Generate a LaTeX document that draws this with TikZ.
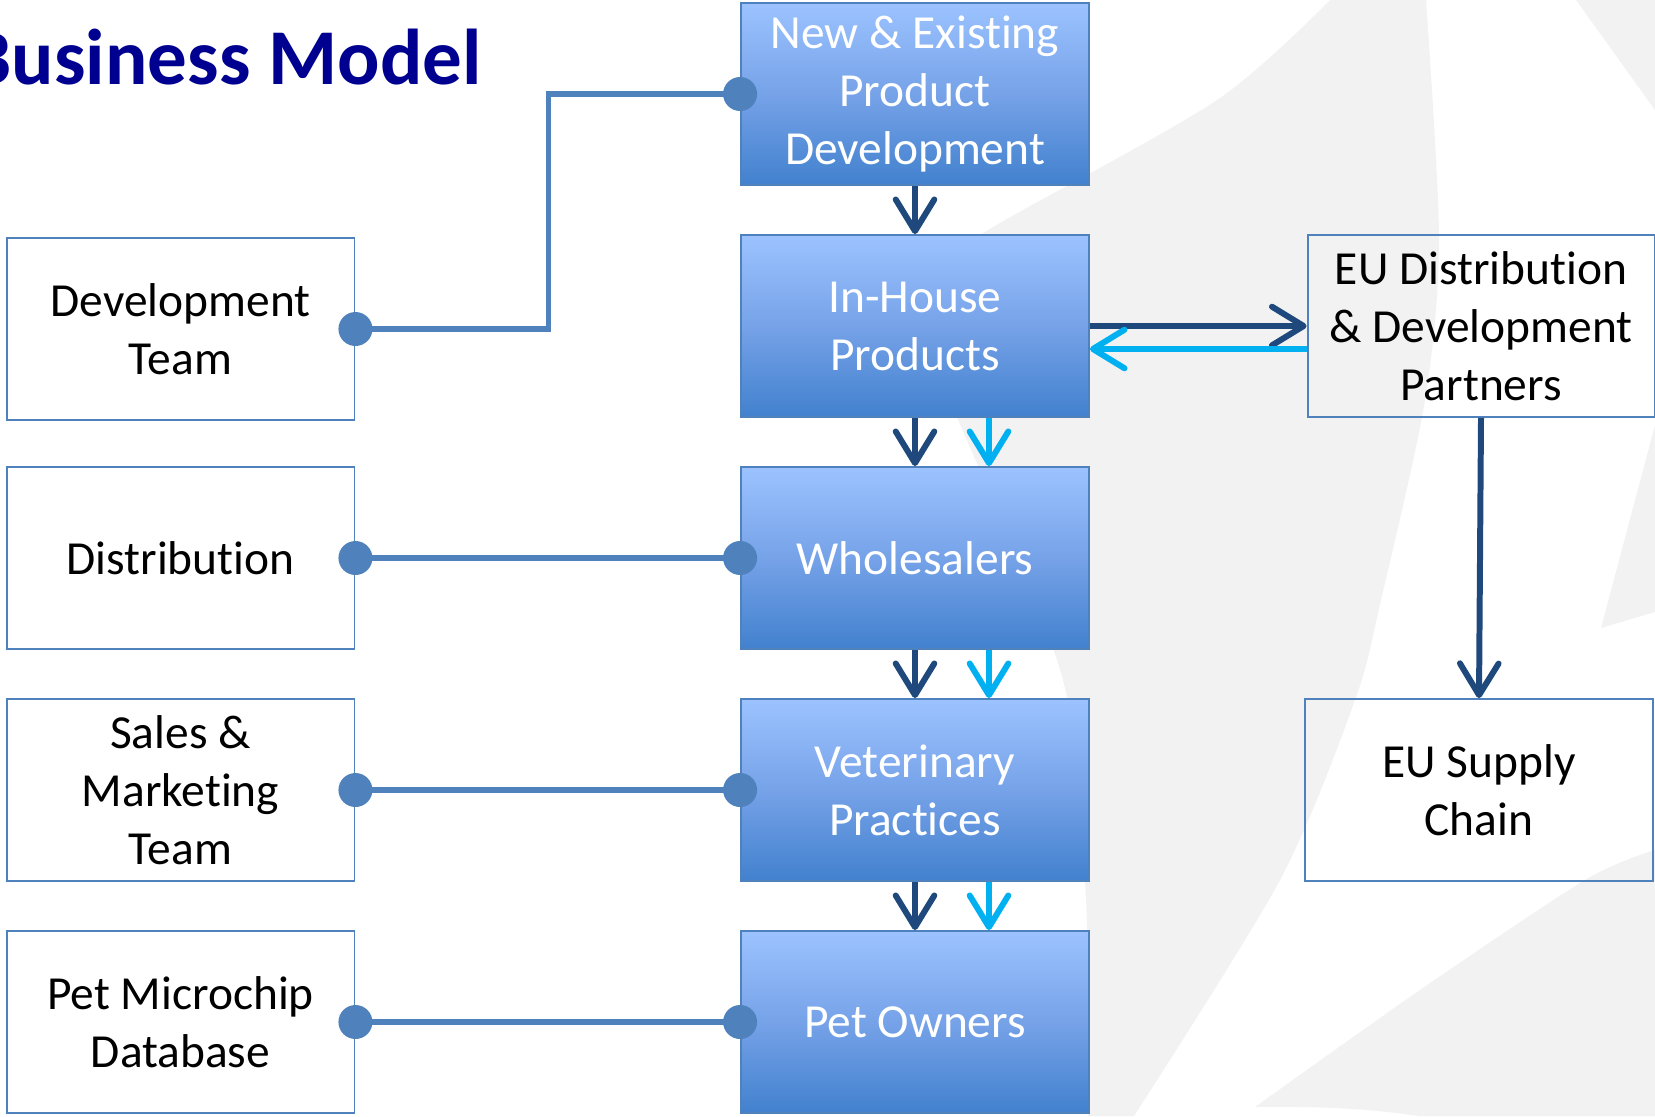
\documentclass[tikz,border=0pt]{standalone}
\usepackage{fontspec}
\setmainfont{Carlito}[Ligatures=NoCommon]
\usetikzlibrary{arrows.meta}
\definecolor{linkblue}{RGB}{79,129,189}
\definecolor{darkarrow}{RGB}{31,73,125}
\definecolor{lightarrow}{RGB}{0,176,240}
\definecolor{flowtop}{RGB}{156,195,255}
\definecolor{flowmid}{RGB}{118,162,232}
\definecolor{flowbot}{RGB}{66,129,206}
\definecolor{titleblue}{RGB}{0,0,144}
\definecolor{swoosh}{RGB}{242,242,242}
\begin{document}
\begin{tikzpicture}[x=0.02cm,y=-0.02cm,
    boxtext/.style={font=\fontsize{27}{33}\selectfont,align=center,
      minimum width=6.96cm,minimum height=3.64cm,inner sep=0pt},
    flow/.style={boxtext,draw=linkblue,line width=1.1pt,text=white,
      top color=flowtop,bottom color=flowbot,middle color=flowmid},
    side/.style={boxtext,draw=linkblue,line width=1.1pt,text=black},
    link/.style={draw=linkblue,line width=3.2pt},
    dot/.style={fill=linkblue},
    dark/.style={draw=darkarrow,line width=3.4pt,
      -{Straight Barb[length=18pt,width=22pt,round]}},
    light/.style={dark,draw=lightarrow}]
  \useasboundingbox (0,0) rectangle (1655,1116);
  \clip (0,0) rectangle (1655,1116);

  % background swoosh
  \fill[swoosh] plot[smooth] coordinates
    {(1426,0) (1439,240) (1425,400) (1381,600) (1355,700) (1280,880) (1134,1116)}
    -- plot[smooth] coordinates
    {(1088,1116) (1086,900) (1063,680) (957,417) (915,320)}
    -- plot[smooth] coordinates
    {(900,285) (1000,223) (1217,100) (1330,0)} -- cycle;
  \fill[swoosh] (1655,425) -- (1601,628) -- (1655,612) -- cycle;
  \fill[swoosh] (1576,0) -- (1655,110) -- (1655,0) -- cycle;
  \fill[swoosh] plot[smooth] coordinates
    {(1655,850) (1585,880) (1420,990) (1255,1107)}
    .. controls (1330,1106) and (1380,1110) .. (1418,1116)
    -- (1655,1116) -- cycle;

  \node[anchor=base east,inner sep=0pt,text=titleblue,
    font=\bfseries\fontsize{45}{50}\selectfont] (title) at (482,84) {Business Model};

  \foreach \n/\y/\t in
    {npd/94/{New \& Existing\\Product\\Development},
     inhouse/326/{In-House\\Products},
     whole/558/Wholesalers,
     vet/790/{Veterinary\\Practices},
     owners/1022/Pet Owners}
    {\node[flow] (\n) at (915,\y) {\t};}

  \foreach \n/\y/\t in
    {devteam/329/{Development\\Team},
     dist/558/Distribution,
     sales/790/{Sales \&\\Marketing\\Team},
     chip/1022/{Pet Microchip\\Database}}
    {\node[side] (\n) at (180.5,\y) {\t};}

  \node[side,minimum width=6.94cm] (eudist) at (1481,326)
    {EU Distribution\\\& Development\\Partners};
  \node[side] (eusupply) at (1479,790) {EU Supply\\Chain};

  \draw[link] (devteam.east) -- ++(193,0) |- (npd.west);
  \foreach \a/\b in
    {dist/whole,sales/vet,chip/owners}
    {\draw[link] (\a.east) -- (\b.west);}
  \foreach \p in
    {devteam.east,dist.east,sales.east,chip.east,
     npd.west,whole.west,vet.west,owners.west}
    {\fill[dot] (\p) circle[radius=0.34cm];}

  \foreach \a/\b in
    {npd/inhouse,inhouse/whole,whole/vet,vet/owners}
    {\draw[dark] (\a.south) -- (\b.north);}
  \foreach \a/\b in
    {inhouse/whole,whole/vet,vet/owners}
    {\draw[light] ([xshift=1.48cm]\a.south) -- ([xshift=1.48cm]\b.north);}

  \draw[dark] (inhouse.east) -- (eudist.west);
  \draw[light] ([yshift=-0.46cm]eudist.west) -- ([yshift=-0.46cm]inhouse.east);
  \draw[dark] (eudist.south) -- (eusupply.north);
\end{tikzpicture}
\end{document}
